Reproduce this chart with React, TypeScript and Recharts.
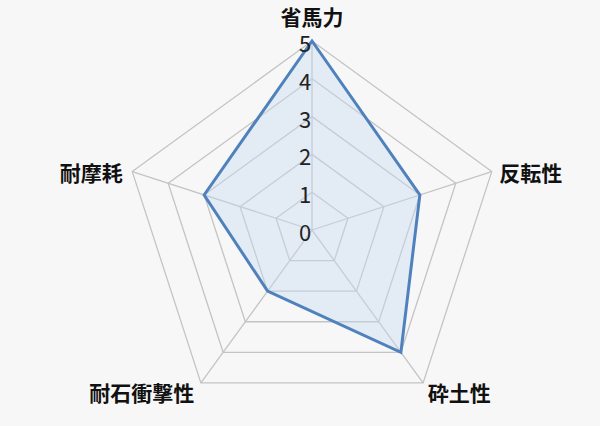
import React from 'react'
import { PolarAngleAxis, PolarGrid, PolarRadiusAxis, Radar, RadarChart } from 'recharts'

const categories = ['省馬力', '反転性', '砕土性', '耐石衝撃性', '耐摩耗']
const scores = [5, 3, 4, 2, 3]
const radiusTicks = [0, 1, 2, 3, 4, 5]

const data = categories.map((name, i) => ({ name, score: scores[i] }))

const font = '"Noto Sans CJK JP", "Noto Sans", sans-serif'

const AngleTick = (props: any) => {
  const { x, y, payload, textAnchor } = props
  const top = textAnchor === 'middle'
  let dx = 0
  if (textAnchor === 'end') dx = -2
  return (
    <text
      x={x + dx}
      y={top ? y - 8 : y + 3}
      textAnchor={textAnchor}
      dominantBaseline={top ? 'auto' : 'central'}
      fontSize={21}
      fontWeight={600}
      fill="#111"
      fontFamily={font}
    >
      {payload.value}
    </text>
  )
}

const RadiusTick = (props: any) => {
  const { x, y, payload } = props
  return (
    <text x={x - 7} y={y + 1} textAnchor="middle" dominantBaseline="central" fontSize={22} fill="#222" fontFamily={font}>
      {payload.value}
    </text>
  )
}

export default function App() {
  return (
    <div style={{ position: 'absolute', left: 0, top: 0, width: 600, height: 426, background: '#f7f7f7' }}>
      <RadarChart width={600} height={426} data={data} cx={312} cy={230} outerRadius={189} startAngle={90} endAngle={-270}>
        <PolarGrid gridType="polygon" stroke="#c4c4c4" strokeWidth={1.3} />
        <PolarAngleAxis dataKey="name" tick={<AngleTick />} tickLine={false} axisLine={false} />
        <Radar
          dataKey="score"
          stroke="#4f81bd"
          strokeWidth={3}
          fill="#c6d9f1"
          fillOpacity={0.4}
          isAnimationActive={false}
        />
        <PolarRadiusAxis
          angle={90}
          domain={[0, 5]}
          ticks={radiusTicks as any}
          tickCount={6}
          axisLine={false}
          tickLine={false}
          tick={<RadiusTick />}
        />
      </RadarChart>
    </div>
  )
}
